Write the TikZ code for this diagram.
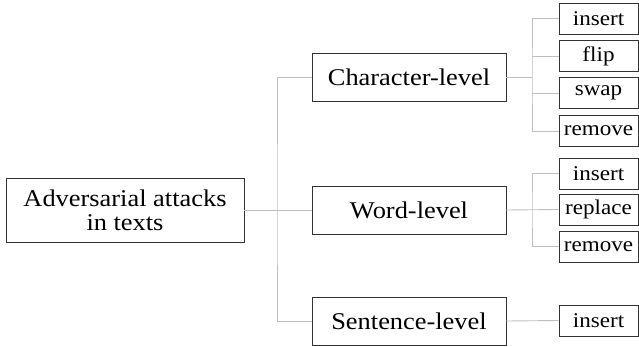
\documentclass[tikz,border=0pt]{standalone}
\usepackage{fontspec}
\setmainfont{Liberation Serif}[FakeStretch=1.1]
\usetikzlibrary{positioning}

\begin{document}
\begin{tikzpicture}[
		x=1pt, y=-1pt,
		box/.style = {draw=black!80, line width=0.8pt, fill=white, inner sep=0pt, align=center},
		rootbox/.style = {box, minimum width=238pt, minimum height=64pt, font=\fontsize{24}{24}\selectfont},
		levelbox/.style = {box, minimum width=194pt, minimum height=48pt, font=\fontsize{24}{26}\selectfont},
		leafbox/.style = {box, minimum width=79pt, minimum height=31pt, font=\fontsize{21}{24}\selectfont},
		link/.style = {draw=black!25, line width=0.9pt}
		]
		\useasboundingbox (0,0) rectangle (639,347);
		% root and levels
		\node[rootbox] at (125,210) (root) {Adversarial attacks\\in texts};
		\node[levelbox] at (409,77.5) (char) {Character-level};
		\node[levelbox] at (409,210) (word) {Word-level};
		\node[levelbox] at (409,321) (sent) {Sentence-level};
		% leaves
		\node[leafbox] at (598.5,18.5) (c1) {insert};
		\node[leafbox] at (598.5,56) (c2) {flip};
		\node[leafbox] at (598.5,93) (c3) {swap};
		\node[leafbox] at (598.5,131) (c4) {remove};
		\node[leafbox] at (598.5,173.5) (w1) {insert};
		\node[leafbox] at (598.5,209.5) (w2) {replace};
		\node[leafbox] at (598.5,246.5) (w3) {remove};
		\node[leafbox] at (598.5,320.5) (s1) {insert};

		% tree lines
		\coordinate (trunk) at (277,210);
		\coordinate (cfork) at (532,77.5);
		\coordinate (wfork) at (532,210);
		\draw[link] (root.east) -- (word.west);
		\draw[link] (char.west) -| (trunk) |- (sent.west);
		\draw[link] (char.east) -- (cfork);
		\draw[link] (c1.west) -| (cfork) |- (c4.west);
		\draw[link] (cfork |- c2.west) -- (c2.west);
		\draw[link] (cfork |- c3.west) -- (c3.west);
		\draw[link] (word.east) -- (w2.west);
		\draw[link] (w1.west) -| (wfork) |- (w3.west);
		\draw[link] (sent.east) -- (s1.west);
	\end{tikzpicture}
\end{document}
